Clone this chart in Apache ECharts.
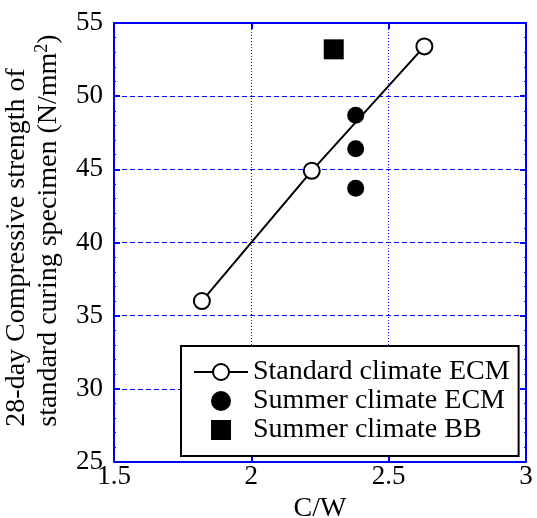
<!DOCTYPE html>
<html><head><meta charset="utf-8">
<script src="https://cdn.jsdelivr.net/npm/echarts@6/dist/echarts.min.js"></script>
<style>html,body{margin:0;padding:0;background:#fff}#c{width:537px;height:518px}</style>
</head><body><div id="c"></div>
<script>
var standardCW = [1.82, 2.22, 2.63];
var standardStrength = [36.0, 44.9, 53.4];
var summerEcmCW = [2.38, 2.38, 2.38];
var summerEcmStrength = [48.7, 46.4, 43.7];
var summerBbCW = [2.30];
var summerBbStrength = [53.2];
var xTicks = [1.5, 2, 2.5, 3];
var yTicks = [25, 30, 35, 40, 45, 50, 55];

function zip(a, b) { return a.map(function (v, i) { return [v, b[i]]; }); }

var FONT = 'Liberation Serif';
var BLUE = '#0000ff';
var chart = echarts.init(document.getElementById('c'), null, {renderer: 'canvas'});
var tickCommon = {show: true, inside: true, length: 6, lineStyle: {color: BLUE, width: 2}};
var minorCommon = {show: true, splitNumber: 5, length: 2, lineStyle: {color: BLUE, width: 1}};
chart.setOption({
  animation: false,
  textStyle: {fontFamily: FONT},
  grid: {left: 114, right: 11, top: 23, bottom: 56, show: false, containLabel: false, outerBoundsMode: 'none'},
  xAxis: [{
    type: 'value', position: 'bottom', min: xTicks[0], max: xTicks[xTicks.length - 1], interval: 0.5,
    name: 'C/W', nameLocation: 'middle', nameGap: 23,
    nameTextStyle: {fontSize: 28, color: '#000', fontFamily: FONT},
    axisLine: {show: true, onZero: false, lineStyle: {color: BLUE, width: 2}},
    axisTick: tickCommon,
    axisLabel: {fontSize: 27, color: '#000', fontFamily: FONT, margin: 1},
    splitLine: {show: true, lineStyle: {color: BLUE, width: 1, type: [1, 2]}}
  }, {
    type: 'value', position: 'top', min: xTicks[0], max: xTicks[xTicks.length - 1], interval: 0.5,
    axisLine: {show: true, onZero: false, lineStyle: {color: BLUE, width: 2}},
    axisTick: tickCommon, axisLabel: {show: false}, splitLine: {show: false}
  }],
  yAxis: [{
    type: 'value', position: 'left', min: yTicks[0], max: yTicks[yTicks.length - 1], interval: 5,
    name: '{t|28-day Compressive strength of}\n{t|standard curing specimen (N/mm}{s|2}{t|)}',
    nameLocation: 'middle', nameGap: 43,
    nameTextStyle: {
      color: '#000', fontFamily: FONT, padding: [0, 0, 0, 24],
      rich: {
        t: {fontSize: 28, fontFamily: FONT, color: '#000', lineHeight: 32, align: 'left'},
        s: {fontSize: 18, fontFamily: FONT, color: '#000', lineHeight: 32, align: 'left', padding: [0, 0, 14, 0]}
      }
    },
    axisLine: {show: true, onZero: false, lineStyle: {color: BLUE, width: 2}},
    axisTick: tickCommon,
    minorTick: minorCommon,
    axisLabel: {fontSize: 27, color: '#000', fontFamily: FONT, margin: 11},
    splitLine: {show: true, lineStyle: {color: BLUE, width: 1, type: [5, 3]}}
  }, {
    type: 'value', position: 'right', min: yTicks[0], max: yTicks[yTicks.length - 1], interval: 5,
    axisLine: {show: true, onZero: false, lineStyle: {color: BLUE, width: 2}},
    axisTick: tickCommon, minorTick: minorCommon, axisLabel: {show: false}, splitLine: {show: false}
  }],
  legend: {
    orient: 'vertical', left: 181, top: 346,
    padding: [12, 9, 12, 12], itemGap: 1, itemWidth: 54, itemHeight: 20,
    symbolKeepAspect: true,
    borderColor: '#000', borderWidth: 2, backgroundColor: '#fff',
    textStyle: {fontSize: 28, fontFamily: FONT, color: '#000'},
    data: [
      {name: 'Standard climate ECM'},
      {name: 'Summer climate ECM'},
      {name: 'Summer climate BB', icon: 'path://M0,0L10,0L10,10L0,10Z'}
    ]
  },
  series: [{
    name: 'Standard climate ECM', type: 'line', data: zip(standardCW, standardStrength),
    symbol: 'emptyCircle', symbolSize: 16, z: 3,
    lineStyle: {color: '#000', width: 2}, itemStyle: {color: '#000', borderColor: '#000', borderWidth: 1}
  }, {
    name: 'Summer climate ECM', type: 'scatter', data: zip(summerEcmCW, summerEcmStrength),
    symbol: 'circle', symbolSize: 17, itemStyle: {color: '#000', opacity: 1}
  }, {
    name: 'Summer climate BB', type: 'scatter', data: zip(summerBbCW, summerBbStrength),
    symbol: 'rect', symbolSize: 20, itemStyle: {color: '#000', opacity: 1}
  }]
});
</script></body></html>
